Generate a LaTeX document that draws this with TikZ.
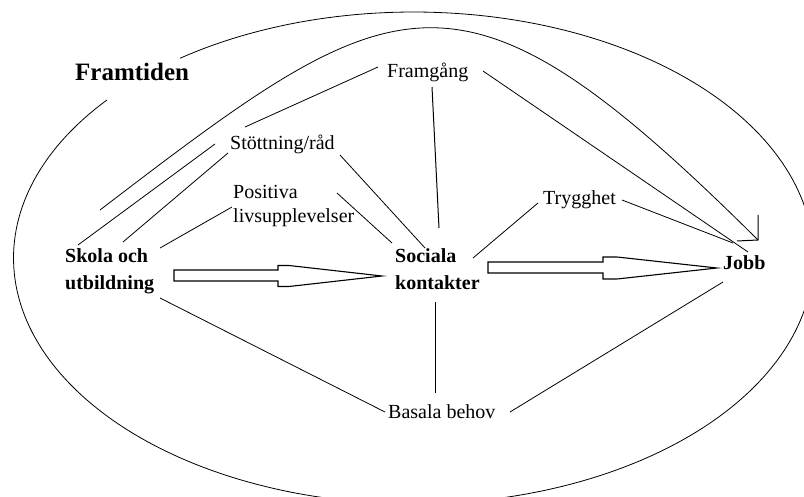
\documentclass[tikz,border=0pt]{standalone}
\usepackage{fontspec}
\setmainfont{Liberation Serif}
\usetikzlibrary{calc}
\begin{document}
\begin{tikzpicture}[x=1pt,y=-1pt,
  lbl/.style={font=\fontsize{20}{24}\selectfont, inner sep=0pt, anchor=base west, align=left},
  blbl/.style={font=\fontsize{20}{27}\selectfont\bfseries, inner sep=0pt, anchor=base west, align=left},
  conn/.style={line width=0.8pt},
  blockarrow/.style={draw, fill=white, line width=1.1pt, line join=miter}]
\useasboundingbox (0,0) rectangle (804,497);
% outer ellipse (broken by the title)
\begin{scope}
\clip (0,0) rectangle (804,497);
\draw[conn] plot[domain=140:485.7, samples=240] ({413.5+400*cos(\x)}, {258-246*sin(\x)});
\end{scope}
% labels (multi-line nodes: base = baseline of last line)
\node[font=\fontsize{25}{30}\selectfont\bfseries, inner sep=0pt, anchor=base west] (framtiden) at (75,81) {Framtiden};
\node[lbl] (framgang) at (387,78) {Framgång};
\node[lbl] (stottning) at (230,150) {Stöttning/råd};
\node[lbl] (positiva) at (233,223) {Positiva\\livsupplevelser};
\node[blbl] (skola) at (65,290) {Skola och\\utbildning};
\node[blbl] (sociala) at (395,290) {Sociala\\kontakter};
\node[lbl] (trygghet) at (543,205) {Trygghet};
\node[blbl] (jobb) at (723,270) {Jobb};
\node[lbl] (basala) at (388,418) {Basala behov};
% connector end points
\coordinate (st-fr1) at (245,127); \coordinate (st-fr2) at (378,67);
\coordinate (fr-jo1) at (483,71); \coordinate (fr-jo2) at (748,252);
\coordinate (tr-jo1) at (622,200); \coordinate (tr-jo2) at (733,243);
\coordinate (fr-so1) at (432,87); \coordinate (fr-so2) at (439,228);
\coordinate (tr-so1) at (538,203); \coordinate (tr-so2) at (473,258);
\coordinate (st-so1) at (340,155); \coordinate (st-so2) at (425,248);
\coordinate (po-so1) at (337,193); \coordinate (po-so2) at (392,243);
\coordinate (st-sk1) at (215,144); \coordinate (st-sk2) at (78,245);
\coordinate (st-sk3) at (228,153); \coordinate (st-sk4) at (123,242);
\coordinate (po-sk1) at (232,207); \coordinate (po-sk2) at (160,248);
\coordinate (sk-ba1) at (160,298); \coordinate (sk-ba2) at (385,412);
\coordinate (so-ba1) at (435,302); \coordinate (so-ba2) at (435,393);
\coordinate (jo-ba1) at (723,282); \coordinate (jo-ba2) at (510,412);
\coordinate (sk-jo1) at (100,210); \coordinate (sk-jo2) at (758,240);
% straight connectors
\draw[conn] (st-fr1) -- (st-fr2);
\draw[conn] (fr-jo1) -- (fr-jo2);
\draw[conn] (tr-jo1) -- (tr-jo2);
\draw[conn, line width=1pt] (fr-so1) -- (fr-so2);
\draw[conn] (tr-so1) -- (tr-so2);
\draw[conn] (st-so1) -- (st-so2);
\draw[conn] (po-so1) -- (po-so2);
\draw[conn] (st-sk1) -- (st-sk2);
\draw[conn] (st-sk3) -- (st-sk4);
\draw[conn] (po-sk1) -- (po-sk2);
\draw[conn] (sk-ba1) -- (sk-ba2);
\draw[conn, line width=1pt] (so-ba1) -- (so-ba2);
\draw[conn] (jo-ba1) -- (jo-ba2);
% big curved arrow from Skola to Jobb
\draw[conn] (sk-jo1) .. controls (398,-18) and (458,-58) .. (sk-jo2);
\draw[conn, line width=1pt] ($(sk-jo2)+(0,-25)$) -- (sk-jo2) -- ($(sk-jo2)+(-21,1)$);
% block arrows
\draw[blockarrow] (174,270) -- (278,270) -- (278,265.5) -- (289,265.5) -- (382,276)
  -- (289,286.5) -- (278,286.5) -- (278,281) -- (174,281) -- cycle;
\draw[blockarrow] (488,262) -- (603,262) -- (603,257) -- (617,257) -- (717,268)
  -- (617,279) -- (603,279) -- (603,273) -- (488,273) -- cycle;
\end{tikzpicture}
\end{document}
